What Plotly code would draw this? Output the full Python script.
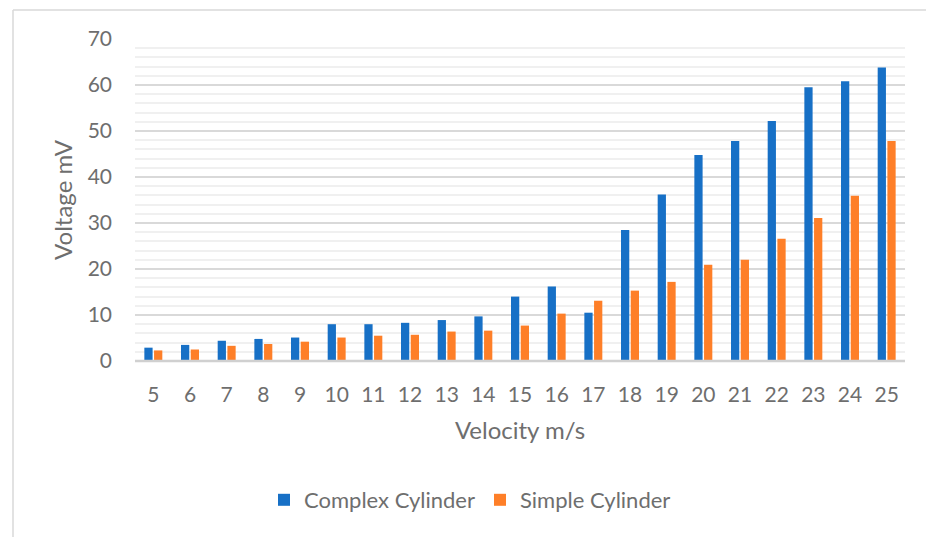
import plotly.graph_objects as go

velocity = [str(v) for v in range(5, 26)]
complex_cyl = [2.9, 3.5, 4.4, 4.8, 5.1, 8.0, 8.0, 8.3, 8.9, 9.7, 14.0, 16.2, 10.5, 28.5, 36.2, 44.8, 47.8, 52.2, 59.5, 60.8, 63.8]
simple_cyl = [2.3, 2.5, 3.3, 3.7, 4.2, 5.1, 5.5, 5.7, 6.4, 6.6, 7.7, 10.3, 13.1, 15.3, 17.2, 20.9, 22.0, 26.6, 31.1, 35.9, 47.8]
y_ticks = [0, 10, 20, 30, 40, 50, 60, 70]

FONT = "Lato"
GREY = "#6E6E6E"
W, H = 926, 537
L, R, T, B = 135, 21, 39, 176
pw, ph = W - L - R, H - T - B

def px(x):
    return (x - L) / pw

def py(y):
    return (H - B - y) / ph

fig = go.Figure()
fig.add_trace(go.Bar(x=velocity, y=complex_cyl, name="Complex Cylinder",
                     marker=dict(color="#1770C6", line=dict(width=0))))
fig.add_trace(go.Bar(x=velocity, y=simple_cyl, name="Simple Cylinder",
                     marker=dict(color="#FE7F28", line=dict(width=0))))

fig.update_layout(
    width=W, height=H,
    margin=dict(l=L, r=R, t=T, b=B),
    paper_bgcolor="white", plot_bgcolor="white",
    barmode="group", bargap=0.47, bargroupgap=0.15,
    font=dict(family=FONT, color=GREY),
    showlegend=True,
    legend=dict(orientation="h", x=px(470), xanchor="center",
                y=py(500), yanchor="middle",
                font=dict(size=22, color=GREY, family=FONT),
                itemwidth=30, tracegroupgap=0),
    xaxis=dict(
        type="category", showgrid=False, showline=False, zeroline=False,
        ticks="", tickfont=dict(size=21, color=GREY, family=FONT),
        ticklabelstandoff=19,
        title=dict(text="Velocity m/s", font=dict(size=24, color=GREY, family=FONT), standoff=17),
    ),
    yaxis=dict(
        range=[0, 70], tickvals=y_ticks, showline=False, zeroline=False,
        showgrid=True, gridcolor="#D9D9D9", gridwidth=1.5,
        minor=dict(dtick=2, showgrid=True, gridcolor="#F0F0F0", gridwidth=1.5),
        ticks="", tickfont=dict(size=21, color=GREY, family=FONT),
        ticklabelstandoff=22,
        title=dict(text="Voltage mV", font=dict(size=24, color=GREY, family=FONT), standoff=8),
    ),
    shapes=[
        dict(type="line", xref="paper", yref="paper", x0=0, x1=1, y0=0, y1=0,
             line=dict(color="#D0D0D0", width=2.5)),
        dict(type="line", xref="paper", yref="paper", x0=px(13), x1=px(13), y0=py(10), y1=py(540),
             line=dict(color="#D9D9D9", width=1.5)),
        dict(type="line", xref="paper", yref="paper", x0=px(13), x1=px(930), y0=py(10), y1=py(10),
             line=dict(color="#D9D9D9", width=1.5)),
    ],
)

fig.write_html("out.html")
